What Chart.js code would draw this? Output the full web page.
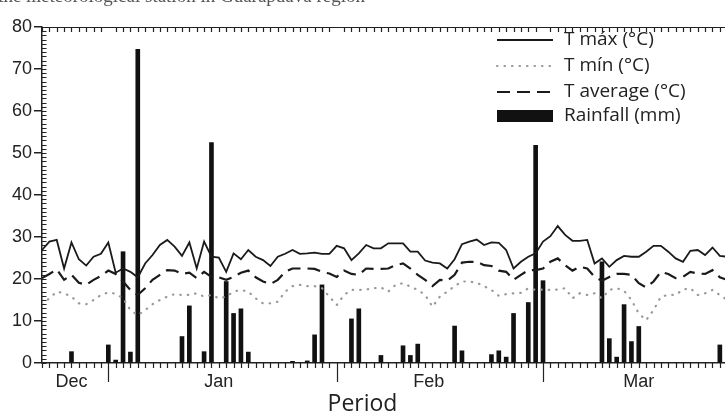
<!DOCTYPE html>
<html>
<head>
<meta charset="utf-8">
<script src="https://cdn.jsdelivr.net/npm/chart.js@4/dist/chart.umd.min.js"></script>
<style>
    html, body { margin: 0; padding: 0; background: #fff; }
</style>
</head>
<body>
<canvas id="myChart" width="725" height="417"></canvas>
<script>
// day 0 = 23 Dec ... day 92 = 25 Mar
const tMax = [
    26.9, 28.9, 29.3, 22.5, 28.7, 24.7, 23.2, 25.3, 26.0, 28.7,
    21.5, 22.5, 21.7, 20.4, 23.7, 25.7, 28.1, 29.3, 27.7, 25.5,
    28.7, 22.5, 28.9, 25.3, 25.1, 21.7, 26.1, 24.7, 26.9, 25.3,
    24.5, 23.1, 25.3, 26.0, 26.9, 26.0, 26.1, 26.3, 26.0, 26.0,
    27.9, 27.3, 24.5, 26.1, 28.1, 27.3, 27.3, 28.5, 28.5, 28.5,
    26.5, 26.5, 24.4, 23.9, 23.7, 22.5, 24.7, 28.3, 28.9, 29.4,
    28.1, 28.7, 28.6, 26.9, 22.5, 24.1, 25.3, 26.1, 28.9, 30.2,
    32.6, 30.5, 29.1, 29.1, 29.3, 23.7, 24.9, 22.9, 24.5, 25.5,
    25.3, 25.3, 26.5, 27.9, 27.9, 26.5, 24.9, 24.1, 26.7, 26.9,
    25.7, 27.5, 25.5, 25.3
];
const tMin = [
    14.0, 15.4, 17.0, 16.6, 15.8, 14.2, 14.0, 15.0, 16.2, 16.8,
    16.5, 15.4, 12.6, 11.4, 12.6, 14.0, 15.0, 15.8, 16.4, 16.2,
    16.2, 16.6, 15.8, 16.2, 15.4, 15.8, 17.0, 17.4, 17.0, 15.4,
    14.2, 14.2, 14.6, 17.0, 18.3, 18.6, 18.3, 18.3, 17.8, 15.8,
    13.8, 16.2, 17.4, 17.4, 17.5, 17.8, 18.0, 17.0, 18.6, 19.0,
    18.2, 17.4, 16.2, 13.4, 15.8, 17.0, 18.3, 19.4, 19.4, 19.1,
    18.3, 17.4, 16.0, 16.4, 16.6, 16.7, 17.8, 17.4, 17.5, 17.4,
    17.5, 17.8, 15.4, 16.6, 16.2, 16.6, 15.4, 17.4, 17.8, 17.2,
    15.0, 11.8, 10.2, 12.6, 15.8, 16.2, 16.2, 17.5, 17.8, 16.2,
    16.6, 17.4, 16.2, 15.0
];
const tAvg = [
    20.2, 21.2, 22.3, 19.8, 21.0, 19.1, 18.6, 19.8, 20.7, 22.0,
    21.2, 19.4, 17.4, 16.2, 17.8, 19.8, 21.0, 22.1, 22.0, 21.2,
    21.5, 20.2, 21.7, 20.5, 20.4, 19.8, 20.5, 21.5, 22.0, 20.4,
    19.4, 18.8, 19.8, 21.7, 22.5, 22.5, 22.5, 22.4, 21.7, 21.3,
    20.5, 22.0, 21.2, 21.0, 22.5, 22.4, 22.4, 22.5, 23.3, 23.7,
    22.5, 21.0, 19.8, 18.3, 19.8, 19.6, 21.0, 23.9, 24.1, 24.1,
    23.3, 23.1, 22.0, 21.7, 19.8, 21.0, 22.1, 22.1, 22.5, 24.1,
    24.9, 23.3, 22.0, 22.9, 22.5, 20.5, 19.6, 20.5, 21.2, 21.2,
    21.0, 19.0, 18.0, 19.4, 21.7, 21.2, 20.2, 20.5, 21.7, 21.3,
    21.2, 22.1, 20.4, 19.8
];
const rainDays = [4, 9, 10, 11, 12, 13, 19, 20, 22, 23, 25, 26, 27, 28, 34, 36, 37, 38, 42, 43,
    46, 49, 50, 51, 56, 57, 61, 62, 63, 64, 66, 67, 68, 76, 77, 78, 79, 80, 81, 92];
const rainMm = [2.7, 4.3, 0.7, 26.5, 2.6, 74.7, 6.3, 13.6, 2.7, 52.5, 19.4, 11.8, 12.9, 2.6, 0.4, 0.5, 6.7, 18.6, 10.5, 12.9,
    1.8, 4.1, 1.8, 4.5, 8.8, 2.9, 2.0, 2.9, 1.4, 11.8, 14.4, 51.8, 19.6, 24.1, 5.8, 1.4, 13.9, 5.1, 8.7, 4.3];

const monthLabels = ['Dec', 'Jan', 'Feb', 'Mar'];
const monthLabelDays = [4, 24, 52.5, 81];
const monthStartDays = [9, 40, 68];

const ink = '#222';

// axis ticks, top frame, legend and the cut caption line
const framePlugin = {
    id: 'frame',
    afterDraw(chart) {
        const {ctx, chartArea: area, scales: {x, y}} = chart;
        ctx.save();
        ctx.strokeStyle = ink;
        ctx.lineWidth = 1.2;
        ctx.beginPath();
        ctx.moveTo(area.left, area.top + 0.5);
        ctx.lineTo(area.right, area.top + 0.5);
        for (let d = 0; d <= Math.floor(x.max); d++) {
            let px = Math.round(x.getPixelForValue(d)) + 0.5;
            let long = monthStartDays.includes(d);
            ctx.moveTo(px, area.bottom);
            ctx.lineTo(px, area.bottom + (long ? 19 : 5));
            if (!long) {
                ctx.moveTo(px, area.top);
                ctx.lineTo(px, area.top + 5);
            }
        }
        for (let v = y.min; v <= y.max; v++) {
            let py = Math.round(y.getPixelForValue(v)) + 0.5;
            ctx.moveTo(area.left, py);
            ctx.lineTo(area.left + 4.5, py);
        }
        ctx.stroke();

        // legend
        let lx = area.right - 228;
        let rows = [13, 39, 65, 89];
        ctx.font = '19px "Open Sans"';
        ctx.textBaseline = 'middle';
        ctx.textAlign = 'left';
        chart.data.datasets.forEach((ds, i) => {
            let ly = area.top + rows[i];
            if (ds.type === 'line') {
                ctx.save();
                ctx.strokeStyle = ds.borderColor;
                ctx.lineWidth = ds.borderWidth;
                ctx.lineCap = ds.borderCapStyle || 'butt';
                ctx.setLineDash(ds.borderDash || []);
                ctx.beginPath();
                ctx.moveTo(lx, ly);
                ctx.lineTo(lx + 56, ly);
                ctx.stroke();
                ctx.restore();
            } else {
                ctx.fillStyle = ds.backgroundColor;
                ctx.fillRect(lx, ly - 6, 56, 12);
            }
            ctx.fillStyle = ink;
            ctx.fillText(ds.label, lx + 67, ly);
        });

        // caption line cut off by the image top
        ctx.font = '19px "Liberation Serif"';
        ctx.textAlign = 'right';
        ctx.textBaseline = 'alphabetic';
        ctx.fillStyle = '#555';
        ctx.fillText('Climatic data of the meteorological station in Guarapuava region', 365, 2);
        ctx.restore();
    }
};

const tickFont = {family: '"Liberation Sans", Arial, sans-serif', size: 18};

new Chart(document.getElementById('myChart'), {
    type: 'bar',
    data: {
        datasets: [{
            type: 'line',
            label: 'T máx (°C)',
            data: tMax.map((v, i) => ({x: i, y: v})),
            borderColor: '#1a1a1a',
            borderWidth: 1.8,
            pointRadius: 0,
            tension: 0,
        }, {
            type: 'line',
            label: 'T mín (°C)',
            data: tMin.map((v, i) => ({x: i, y: v})),
            borderColor: '#999',
            borderWidth: 2.2,
            borderDash: [0.5, 7],
            borderCapStyle: 'round',
            pointRadius: 0,
            tension: 0,
        }, {
            type: 'line',
            label: 'T average (°C)',
            data: tAvg.map((v, i) => ({x: i, y: v})),
            borderColor: '#1a1a1a',
            borderWidth: 2.2,
            borderDash: [13, 7],
            pointRadius: 0,
            tension: 0,
        }, {
            type: 'bar',
            label: 'Rainfall (mm)',
            data: rainDays.map((d, i) => ({x: d, y: rainMm[i]})),
            backgroundColor: '#111',
            borderWidth: 0,
            barThickness: 4,
            grouped: false,
        }]
    },
    options: {
        responsive: false,
        animation: false,
        devicePixelRatio: 1,
        layout: {padding: {top: 27, left: 0, right: 0, bottom: 0}},
        plugins: {
            legend: {display: false},
            tooltip: {enabled: false},
            title: {
                display: true,
                position: 'bottom',
                text: 'Period',
                color: ink,
                font: {family: '"Open Sans"', size: 23, weight: 'normal', lineHeight: 1},
                padding: {top: 0, bottom: 1},
            },
        },
        scales: {
            x: {
                type: 'linear',
                min: 0,
                max: 92.7,
                offset: false,
                afterBuildTicks: s => { s.ticks = monthLabelDays.map(v => ({value: v})); },
                afterFit: s => { s.height = 30; },
                ticks: {
                    callback: v => monthLabels[monthLabelDays.indexOf(v)],
                    font: tickFont,
                    color: ink,
                    padding: 0,
                    maxRotation: 0,
                    autoSkip: false,
                },
                grid: {display: false},
                border: {display: true, color: ink, width: 1.5},
            },
            y: {
                min: 0,
                max: 80,
                afterFit: s => { s.width = 42; },
                ticks: {stepSize: 10, font: tickFont, color: ink, padding: 2},
                grid: {drawOnChartArea: false, drawTicks: true, tickLength: 8, color: ink, lineWidth: 1.5},
                border: {display: true, color: ink, width: 1.5},
            }
        }
    },
    plugins: [framePlugin]
});
</script>
</body>
</html>
